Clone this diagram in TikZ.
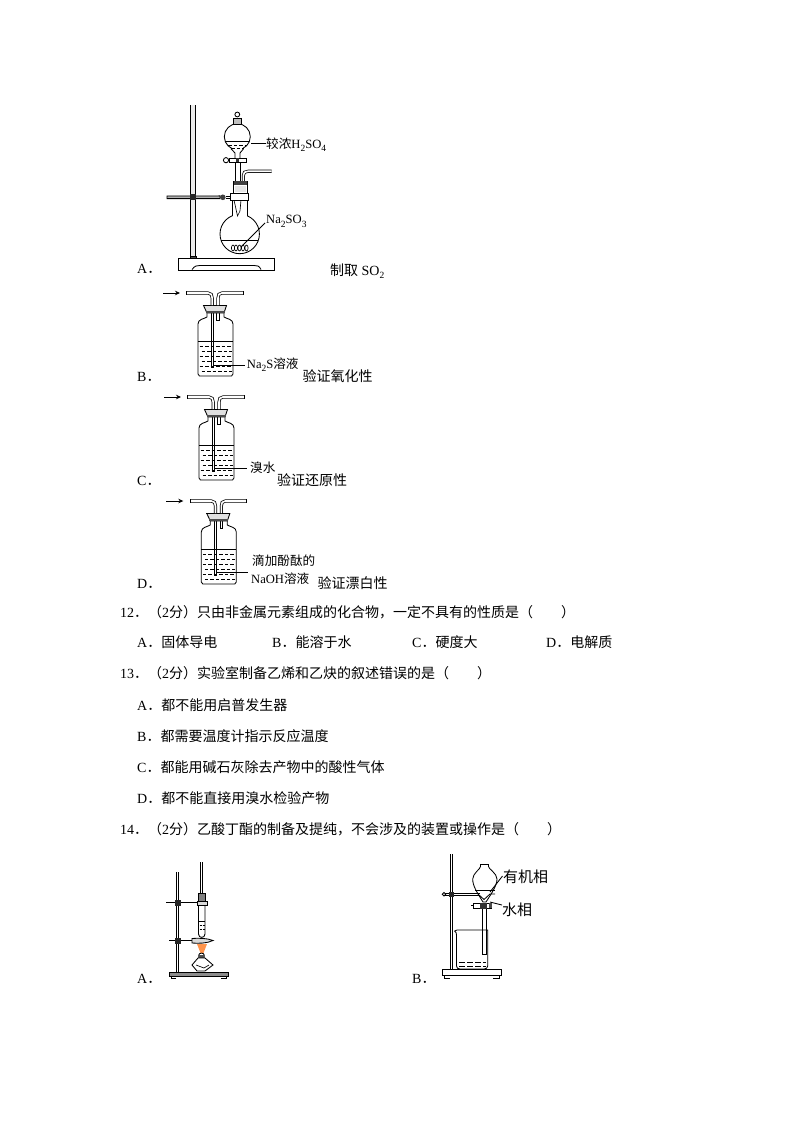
\documentclass[tikz,border=0pt]{standalone}
\usepackage{fontspec}
\setmainfont{Liberation Serif}
\newfontfamily\cjk{Noto Sans CJK SC}
\usetikzlibrary{arrows.meta}
\newcommand{\C}[1]{{\cjk #1}}
\newcommand{\lo}[1]{\raisebox{-0.25em}{\fontsize{9.5pt}{10pt}\selectfont #1}}
\tikzset{
  txt/.style={anchor=base west,inner sep=0pt,font=\fontsize{14pt}{16pt}\selectfont},
  lab/.style={anchor=base west,inner sep=0pt,font=\fontsize{12.6pt}{14pt}\selectfont},
  big/.style={anchor=base west,inner sep=0pt,font=\fontsize{15pt}{17pt}\selectfont},
  ln/.style={line width=.85pt,black},
  thin line/.style={line width=.65pt,black},
  tube/.style={line width=.75pt,double=white,double distance=1.6pt,draw=black},
  liq/.style={line width=.65pt,dash pattern=on 3.5pt off 2pt},
  gasbottle/.pic={
    \draw[ln] (207,313)--(207,317) .. controls (204,319) and (198,319) .. (198,324) -- (198,374) -- (199.5,376) -- (231.5,376) -- (233,374) -- (233,324) .. controls (233,319) and (227,319) .. (224,317)--(224,313);
    \draw[thin line] (198,341)--(233,341);
    \foreach \yy in {346,356,366}{\draw[liq] (199.5,\yy)--(232,\yy);}
    \foreach \yy in {351,361,371}{\draw[liq] (201.5,\yy)--(232,\yy);}
    \draw[ln,fill=white] (216.7,313)--(216.7,320)--(219.3,320)--(219.3,313);
    \draw[thin line] (211,300)--(211,367)--(213.5,367)--(213.5,300);
    \draw[ln,fill=black!12] (203.5,305.5)--(226.5,305.5)--(224,313)--(207,313)--cycle;
    \fill[black!70] (205.5,310.5) rectangle (225,313);
    \draw[line width=1.2pt] (203,305.3)--(227,305.3);
    \draw[tube] (186.7,293)--(208,293) .. controls (211,293) and (212.2,295) .. (212.2,298)--(212.2,305);
    \draw[tube] (243,293)--(222,293) .. controls (219,293) and (218,295) .. (218,298)--(218,305);
    \draw[ln] (186.7,291.2)--(186.7,294.8) (243,291.2)--(243,294.8);
    \draw[-{Stealth[length=5pt,width=4.5pt]},line width=.8pt] (163,293)--(180,293);
  }
}
\begin{document}
\begin{tikzpicture}[x=1pt,y=-1pt]
\useasboundingbox[fill=white] (0,0) rectangle (794,1123);

% ---------- Apparatus A ----------
\draw[ln,fill=black!8] (190.7,105)--(190.7,257)--(195.5,257)--(195.5,105);
\draw[ln,fill=black!70] (190,256) rectangle (196,258.5);
\draw[ln,fill=white] (178,258.5) rectangle (274,270);
\draw[line width=1.1pt] (178,258.7)--(274,258.7);
\draw[ln] (192,269.5) .. controls (195,265.5) and (197,265.5) .. (200,265.5) -- (254,265.5) .. controls (257,265.5) and (259,265.5) .. (261,269.5);
% clamp
\draw[ln,fill=black!30] (167,196)--(218,196)--(220,195.8)--(220,198.6)--(167,198.6)--cycle;
\fill[black!85] (189.5,194.5) rectangle (196,200);
\fill[black!75] (222.8,197.3) circle (2.8);
\draw[ln] (226,196.5)--(231,196.5) (226,198.5)--(231,198.5);
% flask
\draw[ln] (239.7,234) circle (19.7);
\fill[white] (232.6,208) rectangle (246.8,218);
\draw[ln] (232,200)--(232,216) (247.3,200)--(247.3,216);
\draw[thin line] (221,240)--(258.4,240);
\draw[thin line] (234,200)--(237.5,216)--(240,211) (241,200)--(240,211);
\foreach \xx in {233,236,239.5,243,246.5}{\draw[thin line] (\xx,248) ellipse (1.6 and 3);}
\draw[ln,fill=white] (230,193) rectangle (248,200.3);
% stopper + side tube
\draw[tube] (243.3,181)--(243.3,175.5) .. controls (243.3,172.5) and (245,171.3) .. (248,171.3)--(271.7,171.3);
\draw[ln] (235,163)--(235,181) (240,163)--(240,181);
\draw[ln,fill=white] (233.5,181) rectangle (247,193);
\fill[black!75] (233.5,181) rectangle (247,185);
\fill[black!10] (234.5,186) rectangle (246,192);
% funnel
\draw[ln] (237.3,136.7) circle (13);
\fill[white] (234.6,120) rectangle (240,126);
\fill[white] (232,147) rectangle (243,151);
\draw[ln] (231,148.7)--(235,153)--(235,158) (243.6,148.7)--(240,153)--(240,158);
\draw[thin line] (225.2,141.7)--(249.4,141.7);
\draw[liq] (228,145)--(247,145);
\draw[liq] (231,148)--(244,148);
\draw[ln,fill=black!25] (233.5,118) rectangle (241,124);
\draw[ln] (237.3,114.5) circle (2.4);
\draw[ln,fill=white] (229,158) rectangle (246.6,162.5);
\fill[black!80] (236,158) rectangle (239,162.5);
\draw[ln] (226,160.2) circle (2.6);
\node[lab] (aacid) at (266,148.5) {\C{较浓}H\lo{2}SO\lo{4}};
\draw[ln] (aacid.base west |- 0,143.5) -- ++(-15,0) coordinate (aacidend);
\node[lab] (asalt) at (266,224) {Na\lo{2}SO\lo{3}};
\coordinate (asaltend) at (241,247);
\draw[ln] (asalt.base west) ++(-1,-1) -- (asaltend);
\node[txt] (optA) at (137,273) {A\C{．}};
\node[txt] (tA) at (330,275) {\C{制取} SO\lo{2}};

% ---------- Apparatus B, C, D ----------
\pic at (0,0) {gasbottle};
\pic at (1,104) {gasbottle};
\pic at (3.3,208) {gasbottle};

\node[lab] (bl) at (246.7,368) {Na\lo{2}S\C{溶液}};
\coordinate (be) at (214,365);
\draw[ln] (be)--(245,365);
\node[txt] (optB) at (137,381) {B\C{．}};
\node[txt] (tB) at (302.5,381) {\C{验证氧化性}};

\node[lab] (cl) at (250,472.5) {\C{溴水}};
\coordinate (ce) at (215,468.5);
\draw[ln] (ce)--(247,468.5);
\node[txt] (optC) at (137,485) {C\C{．}};
\node[txt] (tC) at (277,485) {\C{验证还原性}};

\node[lab] (dl1) at (252,565.5) {\C{滴加酚酞的}};
\node[lab] (dl2) at (251,583.5) {NaOH\C{溶液}};
\coordinate (de) at (217,572);
\draw[ln] (de)--(247.5,572);
\node[txt] (optD) at (137,588) {D\C{．}};
\node[txt] (tD) at (317.5,588) {\C{验证漂白性}};

% ---------- Questions ----------
\node[txt] (q12) at (120,617) {12\C{．（}2\C{分）只由非金属元素组成的化合物，一定不具有的性质是（\hspace{2em}）}};
\node[txt] (q12a) at (137,647) {A\C{．固体导电}};
\node[txt] (q12b) at (272,647) {B\C{．能溶于水}};
\node[txt] (q12c) at (412,647) {C\C{．硬度大}};
\node[txt] (q12d) at (546,647) {D\C{．电解质}};
\node[txt] (q13) at (120,678) {13\C{．（}2\C{分）实验室制备乙烯和乙炔的叙述错误的是（\hspace{2em}）}};
\node[txt] (q13a) at (137,710) {A\C{．都不能用启普发生器}};
\node[txt] (q13b) at (137,741) {B\C{．都需要温度计指示反应温度}};
\node[txt] (q13c) at (137,772) {C\C{．都能用碱石灰除去产物中的酸性气体}};
\node[txt] (q13d) at (137,803) {D\C{．都不能直接用溴水检验产物}};
\node[txt] (q14) at (120,834) {14\C{．（}2\C{分）乙酸丁酯的制备及提纯，不会涉及的装置或操作是（\hspace{2em}）}};

% ---------- 14 A ----------
\draw[thin line] (176.8,872)--(176.8,972) (178.8,872)--(178.8,972);
\draw[ln,fill=black!45] (169,972.5) rectangle (228,976);
\draw[ln] (171,976)--(171,978.5)--(176,978.5) (226,976)--(226,978.5)--(221,978.5);
\draw[line width=1.1pt] (166,902.7)--(197,902.7);
\fill[black!85] (175,900) rectangle (181,906);
\draw[ln,fill=black!15] (197,901) rectangle (207,905);
\draw[thin line] (200.5,862)--(200.5,893) (202.6,862)--(202.6,893);
\draw[ln,fill=black!50] (198,893) rectangle (205,901);
\draw[ln] (198.5,905)--(198.5,934) .. controls (198.5,938.5) and (205,938.5) .. (205,934)--(205,905);
\draw[thin line] (199,921.5)--(204.5,921.5);
\draw[liq,dash pattern=on 2pt off 1pt] (199.5,925)--(204.5,925);
\draw[liq,dash pattern=on 2pt off 1pt] (199.5,929)--(204.5,929);
\draw[line width=1.1pt] (169,940.7)--(193,940.7);
\fill[black!85] (175,938) rectangle (181,943.5);
\draw[ln,fill=black!15] (192,938.5) .. controls (198,938) and (207,938) .. (213,940.5) .. controls (207,943.5) and (198,943.5) .. (192,943) -- cycle;
\fill[orange!80!red!70] (197,944)--(207,944)--(203.5,953)--(200.5,953)--cycle;
\draw[ln] (198.8,958)--(198.8,955) .. controls (199,952.5) and (204,952.5) .. (204.2,955)--(204.2,958);
\fill[black!70] (199,955) rectangle (204,958);
\draw[ln,fill=white] (198,958)--(205,958)--(213,965)--(205,971)--(197,971)--(192,965)--cycle;
\draw[thin line] (196,965)--(204,968)--(209,965);
\node[txt] (opt14A) at (137,983) {A\C{．}};

% ---------- 14 B ----------
\draw[thin line] (450.2,854)--(450.2,969) (452.3,854)--(452.3,969);
\draw[ln,fill=white] (442,969.5) rectangle (501,975);
\draw[line width=1.1pt] (442,969.7)--(501,969.7);
\draw[ln] (444,975)--(444,978.5)--(450,978.5) (499,975)--(499,978.5)--(493,978.5);
% beaker
\draw[ln] (454.5,931) .. controls (456,932) and (456.5,933) .. (456.5,935)--(456.5,966) .. controls (456.5,968) and (458,969) .. (460,969)--(484,969) .. controls (486,969) and (487.7,968) .. (487.7,966)--(487.7,930)--(457,930)--(454.5,931);
\draw[line width=1.1pt,dash pattern=on 6pt off 2pt] (459,962.5)--(486,962.5);
\draw[line width=.9pt,dash pattern=on 6pt off 2pt] (459,966)--(486,966);
% funnel
\draw[ln] (482,908)--(482,954.5)--(486.7,954.5)--(486.7,908);
\draw[ln,fill=white] (473,903) rectangle (491,908.5);
\fill[black!80] (480,903) rectangle (487,908.5);
\draw[ln] (473,903)--(473,908.5) (473,905.7)--(471,905.7);
\fill[black!70] (489,903) rectangle (492,908);
\draw[ln,fill=white] (480.5,864) -- (480.5,866.5) .. controls (480.5,869) and (473,873) .. (472.7,879) .. controls (472.5,886) and (478,894) .. (483,902) -- (486,902) .. controls (491,894) and (497,886) .. (497,879) .. controls (496.8,873) and (488.5,869) .. (488.5,866.5) -- (488.5,864);
\draw[line width=1pt] (480,864)--(489,864);
\draw[thin line] (475,890)--(494.5,890);
% ring and clamp
\draw[thin line] (445,893.3)--(480,893.3) (445,895.2)--(480,895.2);
\draw[ln] (478,894) -- (484,899.5) -- (490,894) -- (495,894);
\draw[ln] (444,894.2) circle (1.7);
\fill[black!85] (449.2,892) rectangle (453.5,897);
\node[big] (org) at (503,882) {\C{有机相}};
\node[big] (aq) at (502,915) {\C{水相}};
\coordinate (orge) at (490,892);
\coordinate (aqe) at (490,902);
\draw[ln] (org.base west) ++(-.5,-6) -- (orge);
\draw[ln] (aq.base west) ++(0,-10) -- (aqe);
\node[txt] (opt14B) at (412,983) {B\C{．}};
\end{tikzpicture}
\end{document}
